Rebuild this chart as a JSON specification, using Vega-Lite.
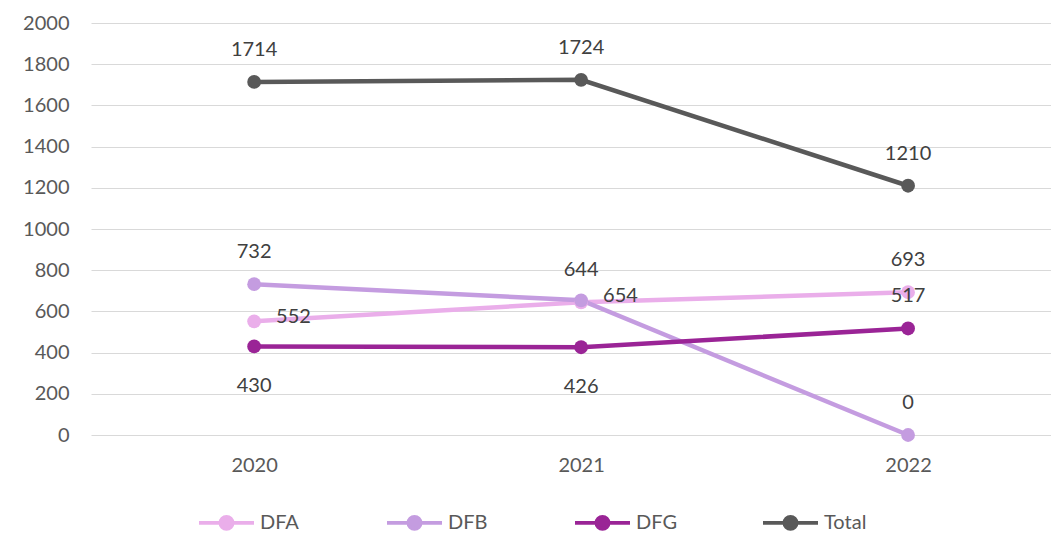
{
  "$schema": "https://vega.github.io/schema/vega-lite/v6.json",
  "width": 960,
  "height": 412,
  "autosize": {"type": "none"},
  "padding": {"left": 91, "top": 23, "right": 0, "bottom": 98},
  "background": "white",
  "config": {
    "view": {"stroke": null},
    "font": "Lato",
    "axis": {"labelFont": "Lato", "labelColor": "#595959", "labelFontSize": 20}
  },
  "data": {
    "values": [
      {"year": "2020", "series": "DFA", "value": 552},
      {"year": "2021", "series": "DFA", "value": 644},
      {"year": "2022", "series": "DFA", "value": 693},
      {"year": "2020", "series": "DFB", "value": 732},
      {"year": "2021", "series": "DFB", "value": 654},
      {"year": "2022", "series": "DFB", "value": 0},
      {"year": "2020", "series": "DFG", "value": 430},
      {"year": "2021", "series": "DFG", "value": 426},
      {"year": "2022", "series": "DFG", "value": 517},
      {"year": "2020", "series": "Total", "value": 1714},
      {"year": "2021", "series": "Total", "value": 1724},
      {"year": "2022", "series": "Total", "value": 1210}
    ]
  },
  "encoding": {
    "x": {
      "field": "year", "type": "ordinal",
      "scale": {"type": "point", "padding": 0.468, "align": 0.533},
      "axis": {"title": null, "labelAngle": 0, "domain": false, "ticks": false, "labelPadding": 20, "grid": false}
    },
    "y": {
      "field": "value", "type": "quantitative",
      "scale": {"domain": [0, 2000], "nice": false},
      "axis": {"title": null, "format": "d", "values": [0,200,400,600,800,1000,1200,1400,1600,1800,2000], "domain": false, "ticks": false, "labelPadding": 22, "gridColor": "#d9d9d9", "gridWidth": 1.2}
    }
  },
  "layer": [
    {
      "mark": {"type": "line", "strokeWidth": 4.5, "point": {"filled": true, "size": 190, "opacity": 1}},
      "encoding": {
        "color": {
          "field": "series", "type": "nominal",
          "scale": {"domain": ["DFA", "DFB", "DFG", "Total"], "range": ["#eaaeea", "#c49ce0", "#9a2496", "#595959"]},
          "legend": {
            "title": null,
            "orient": "none",
            "direction": "horizontal",
            "legendX": 106,
            "legendY": 470,
            "symbolType": "M-1,0H1M0.22,0A0.22,0.22,0,1,1,-0.22,0A0.22,0.22,0,1,1,0.22,0Z",
            "symbolSize": 3025,
            "symbolStrokeWidth": 3.8,
            "labelFont": "Lato",
            "labelFontSize": 20,
            "labelColor": "#595959",
            "labelOffset": 4,
            "gridAlign": "all",
            "columnPadding": 76
          }
        },
        "order": {"field": "year"}
      }
    },
    {
      "transform": [{"filter": "!((datum.series == 'DFG' && datum.year != '2022') || (datum.series == 'DFA' && datum.year == '2020') || (datum.series == 'DFB' && datum.year == '2021'))"}],
      "mark": {"type": "text", "dy": -32, "fontSize": 20, "color": "#404040", "font": "Lato"},
      "encoding": {"text": {"field": "value", "type": "quantitative"}}
    },
    {
      "transform": [{"filter": "datum.series == 'DFG' && datum.year != '2022'"}],
      "mark": {"type": "text", "dy": 40, "fontSize": 20, "color": "#404040", "font": "Lato"},
      "encoding": {"text": {"field": "value", "type": "quantitative"}}
    },
    {
      "transform": [{"filter": "(datum.series == 'DFA' && datum.year == '2020') || (datum.series == 'DFB' && datum.year == '2021')"}],
      "mark": {"type": "text", "align": "left", "dx": 22, "dy": -4, "fontSize": 20, "color": "#404040", "font": "Lato"},
      "encoding": {"text": {"field": "value", "type": "quantitative"}}
    }
  ]
}
